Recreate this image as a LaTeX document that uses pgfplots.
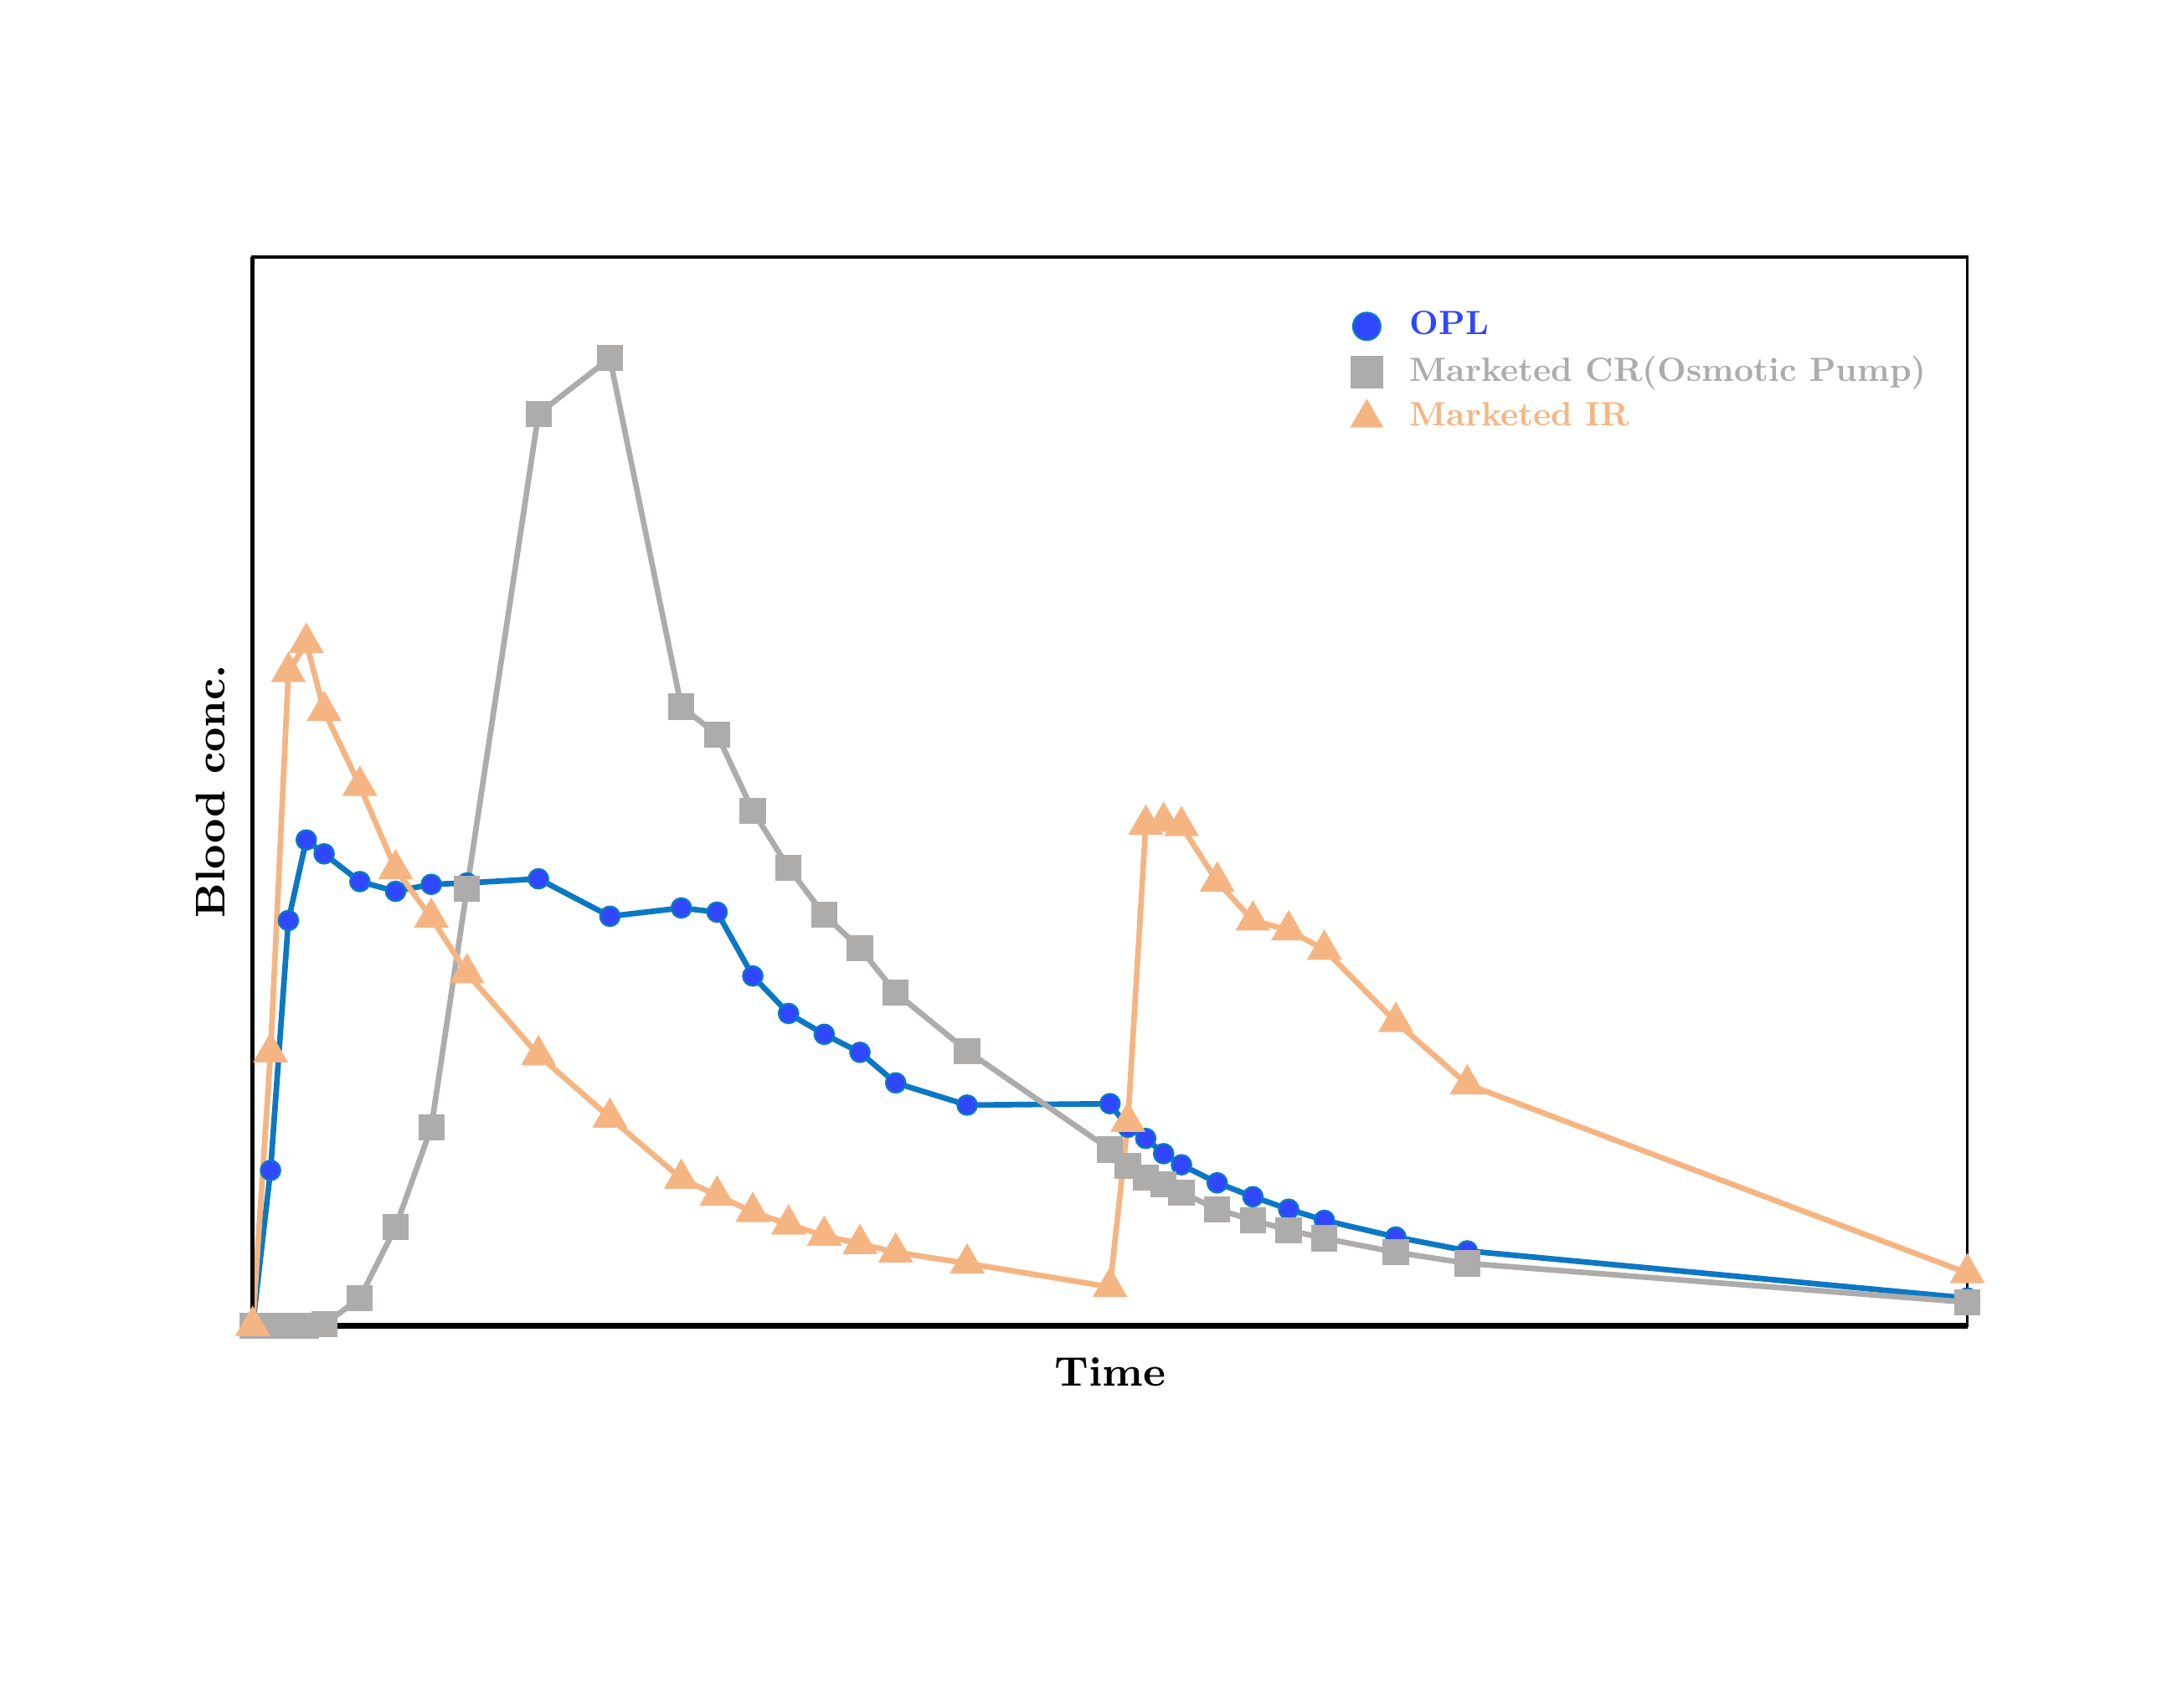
\documentclass[border=0pt]{standalone}
\usepackage{pgfplots}
\pgfplotsset{compat=1.18}
\definecolor{oplline}{HTML}{0C78C4}
\definecolor{oplfill}{HTML}{3046FF}
\definecolor{crgray}{HTML}{AEABAB}
\definecolor{irorange}{HTML}{F5B582}
\font\lgdfont="[lmroman10-bold]:+tlig;" at 6.9pt
\begin{document}
\begin{tikzpicture}[x=1mm,y=1mm]
\path[use as bounding box] (-18.2,-27.5) rectangle (138.6,95.5);
\begin{axis}[
  at={(0,0)}, anchor=south west,
  scale only axis, width=123.5mm, height=77mm,
  xmin=0, xmax=48, ymin=0, ymax=770,
  xtick=\empty, ytick=\empty,
  axis line style={line width=0.6pt},
  clip=false,
  xlabel={\fontsize{8.5}{10}\selectfont\bfseries Time},
  ylabel={\fontsize{8.5}{10}\selectfont\bfseries Blood conc.},
  xlabel style={at={(0.5,-0.014)}, anchor=north},
  ylabel style={at={(-0.006,0.5)}, anchor=south},
  legend style={draw=none, fill=none, at={(0.635,0.964)}, anchor=north west,
    font=\lgdfont, row sep=-1.1pt,
    inner sep=1pt},
  legend cell align=left,
  legend image code/.code={\path[draw=none] (0cm,0cm) -- (0.38cm,0cm);\path[#1, draw=none, mark size=2.8pt] plot coordinates {(0.14cm,0cm)};},
]
\addplot[oplline, line width=1.15pt, mark=*, mark size=2.0pt,
  mark options={fill=oplfill, draw=oplline, line width=0.4pt}] coordinates {
(0,0) (0.5,112) (1,292) (1.5,350) (2,340) (3,320) (4,313) (5,318) (6,319)
(8,322) (10,295) (12,301) (13,298) (14,252) (15,225) (16,210) (17,197)
(18,175) (20,159) (24,160) (24.5,143) (25,135) (25.5,124) (26,116) (27,103)
(28,93) (29,84) (30,76) (32,64) (34,54) (48,20)};
\addlegendentry{\textcolor{oplfill}{OPL}}
\addplot[crgray, line width=1.15pt, mark=square*, mark size=2.1pt,
  mark options={fill=crgray, draw=crgray}] coordinates {
(0,0) (0.5,0) (1,0) (1.5,0) (2,1) (3,20) (4,71) (5,143) (6,315) (8,657)
(10,697) (12,446) (13,426) (14,371) (15,330) (16,296) (17,272) (18,240)
(20,198) (24,127) (24.5,115) (25,107) (25.5,102) (26,96) (27,84) (28,76)
(29,69) (30,63) (32,53) (34,45) (48,17)};
\addlegendentry{\textcolor{crgray}{Marketed CR(Osmotic Pump)}}
\addplot[irorange, line width=1.15pt, mark=triangle*, mark size=3.0pt,
  mark options={fill=irorange, draw=irorange}] coordinates {
(0,0) (0.5,197) (1,471) (1.5,492) (2,443) (3,389) (4,329) (5,294) (6,254)
(8,195) (10,150) (12,106) (13,94) (14,82) (15,73) (16,65) (17,59) (18,53)
(20,45) (24,28) (24.5,147) (25,361) (25.5,363) (26,360) (27,320) (28,292)
(29,285) (30,271) (32,219) (34,174) (48,38)};
\addlegendentry{\textcolor{irorange}{Marketed IR}}
\draw[black, line width=1.2pt] (rel axis cs:0,0) -- (rel axis cs:1,0);
\draw[black, line width=0.9pt] (rel axis cs:0,0) -- (rel axis cs:0,1);
\end{axis}
\end{tikzpicture}
\end{document}
